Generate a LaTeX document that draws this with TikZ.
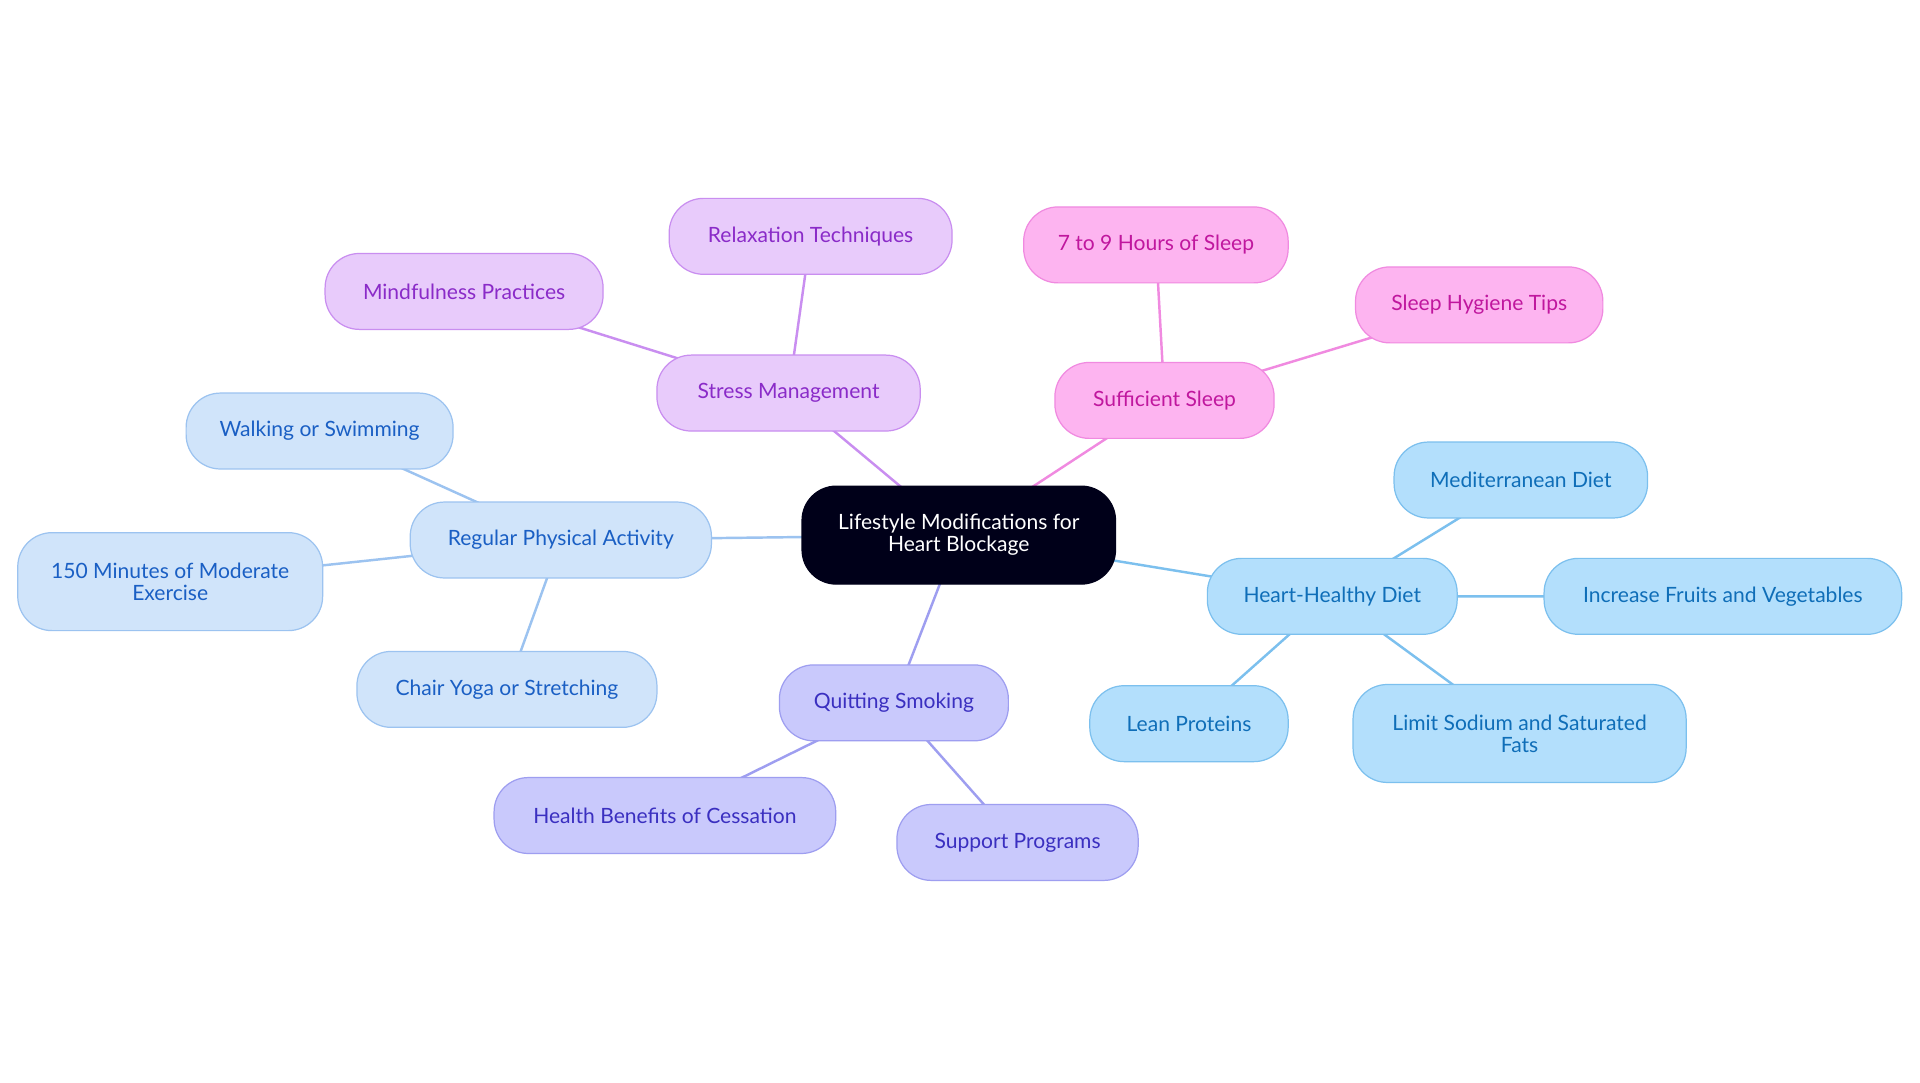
\documentclass[tikz,border=0pt]{standalone}
\usepackage{fontspec}
\setmainfont{Lato}
\begin{document}
\begin{tikzpicture}[x=0.5pt,y=-0.5pt,
  box/.style={draw,rounded corners=14pt,align=center,font=\fontsize{8.6}{9}\selectfont,inner sep=0pt,line width=0.5pt},
  pa/.style={box,fill=pafill,draw=paline,text=patext},
  di/.style={box,fill=difill,draw=diline,text=ditext},
  st/.style={box,fill=stfill,draw=stline,text=sttext},
  sl/.style={box,fill=slfill,draw=slline,text=sltext},
  sm/.style={box,fill=smfill,draw=smline,text=smtext},
  ed/.style={line width=1pt}]
\definecolor{pafill}{HTML}{D0E4FA}\definecolor{paline}{HTML}{9CC3F0}\definecolor{patext}{HTML}{1A5FC4}
\definecolor{difill}{HTML}{B3DFFC}\definecolor{diline}{HTML}{7CC0EE}\definecolor{ditext}{HTML}{0F6EB8}
\definecolor{stfill}{HTML}{E8CBFB}\definecolor{stline}{HTML}{C98EF0}\definecolor{sttext}{HTML}{8A2BC8}
\definecolor{slfill}{HTML}{FDB4F0}\definecolor{slline}{HTML}{F08AE0}\definecolor{sltext}{HTML}{C0179E}
\definecolor{smfill}{HTML}{C9C9FC}\definecolor{smline}{HTML}{9E9EF0}\definecolor{smtext}{HTML}{3A2FC0}
\useasboundingbox[fill=white] (0,0) rectangle (1568,884);
% edges first
\coordinate (c) at (783,437);
\coordinate (pa) at (458,441); \coordinate (pa1) at (261,352); \coordinate (pa2) at (139,475); \coordinate (pa3) at (414,563);
\coordinate (st) at (644,321); \coordinate (st1) at (379,238); \coordinate (st2) at (662,193);
\coordinate (sl) at (951,327); \coordinate (sl1) at (944,200); \coordinate (sl2) at (1208,249);
\coordinate (di) at (1088,487); \coordinate (di1) at (1242,392); \coordinate (di2) at (1407,487); \coordinate (di3) at (971,591); \coordinate (di4) at (1241,599);
\coordinate (sm) at (730,574); \coordinate (sm1) at (543,666); \coordinate (sm2) at (831,688);
\draw[ed,draw=paline] (c)--(pa) (pa)--(pa1) (pa)--(pa2) (pa)--(pa3);
\draw[ed,draw=stline] (c)--(st) (st)--(st1) (st)--(st2);
\draw[ed,draw=slline] (c)--(sl) (sl)--(sl1) (sl)--(sl2);
\draw[ed,draw=diline] (c)--(di) (di)--(di1) (di)--(di2) (di)--(di3) (di)--(di4);
\draw[ed,draw=smline] (c)--(sm) (sm)--(sm1) (sm)--(sm2);
\node[box,fill=black!90!blue,draw=black!90!blue,text=white,minimum width=128pt,minimum height=40pt] (nc) at (c) {Lifestyle Modifications for\\Heart Blockage};
\node[pa,minimum width=123pt,minimum height=31pt] (npa) at (pa) {Regular Physical Activity};
\node[pa,minimum width=109pt,minimum height=31pt] (npa1) at (pa1) {Walking or Swimming};
\node[pa,minimum width=124.5pt,minimum height=40pt] (npa2) at (pa2) {150 Minutes of Moderate\\Exercise};
\node[pa,minimum width=122.5pt,minimum height=31pt] (npa3) at (pa3) {Chair Yoga or Stretching};
\node[st,minimum width=107.5pt,minimum height=31pt] (nst) at (st) {Stress Management};
\node[st,minimum width=113.5pt,minimum height=31pt] (nst1) at (st1) {Mindfulness Practices};
\node[st,minimum width=115.5pt,minimum height=31pt] (nst2) at (st2) {Relaxation Techniques};
\node[sl,minimum width=89.5pt,minimum height=31pt] (nsl) at (sl) {Sufficient Sleep};
\node[sl,minimum width=108pt,minimum height=31pt] (nsl1) at (sl1) {7 to 9 Hours of Sleep};
\node[sl,minimum width=101pt,minimum height=31pt] (nsl2) at (sl2) {Sleep Hygiene Tips};
\node[di,minimum width=102pt,minimum height=31pt] (ndi) at (di) {Heart-Healthy Diet};
\node[di,minimum width=103.5pt,minimum height=31pt] (ndi1) at (di1) {Mediterranean Diet};
\node[di,minimum width=146pt,minimum height=31pt] (ndi2) at (di2) {Increase Fruits and Vegetables};
\node[di,minimum width=81pt,minimum height=31pt] (ndi3) at (di3) {Lean Proteins};
\node[di,minimum width=136pt,minimum height=40pt] (ndi4) at (di4) {Limit Sodium and Saturated\\Fats};
\node[sm,minimum width=93.5pt,minimum height=31pt] (nsm) at (sm) {Quitting Smoking};
\node[sm,minimum width=139.5pt,minimum height=31pt] (nsm1) at (sm1) {Health Benefits of Cessation};
\node[sm,minimum width=98.5pt,minimum height=31pt] (nsm2) at (sm2) {Support Programs};
\end{tikzpicture}
\end{document}
